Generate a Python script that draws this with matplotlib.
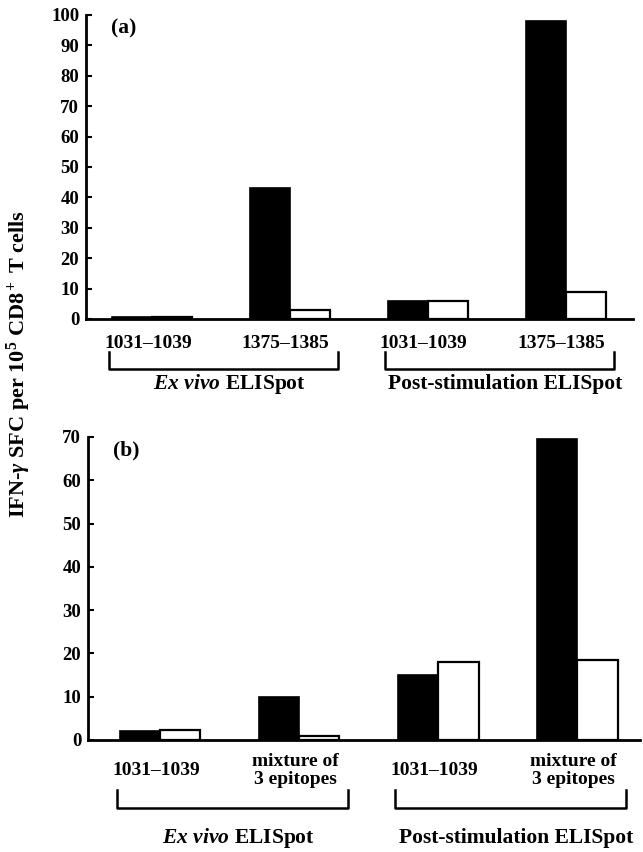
import matplotlib.pyplot as plt
import numpy as np

# data
cats_a = ['1031–1039', '1375–1385', '1031–1039', '1375–1385']
black_a = [0.5, 43, 6, 98]
white_a = [0.5, 3, 6, 9]

cats_b = ['1031–1039', 'mixture of\n3 epitopes', '1031–1039', 'mixture of\n3 epitopes']
black_b = [2, 10, 15, 69.5]
white_b = [2.2, 1, 18, 18.5]

groups = [r'$\mathit{Ex\ vivo}$ ELISpot', 'Post-stimulation ELISpot']

plt.rcParams['font.family'] = 'Liberation Serif'
plt.rcParams['font.weight'] = 'bold'
plt.rcParams['mathtext.fontset'] = 'custom'
plt.rcParams['mathtext.rm'] = 'Liberation Serif:bold'
plt.rcParams['mathtext.it'] = 'Liberation Serif:italic:bold'
plt.rcParams['mathtext.bf'] = 'Liberation Serif:bold'

fig = plt.figure(figsize=(6.43, 8.52), dpi=100)
ax_a = fig.add_axes([0.134, 0.6256, 0.85, 0.3568])
ax_b = fig.add_axes([0.137, 0.1315, 0.858, 0.3556])

w = 0.29
fs = 14


def panel(ax, cats, black, white, ymax, ystep, xlim, tag, lab_y, br_top, br_bot, grp_y):
    x = np.arange(len(cats))
    ax.bar(x - w / 2, black, w, color='black', edgecolor='black', linewidth=1.2)
    ax.bar(x + w / 2, white, w, color='white', edgecolor='black', linewidth=1.6)
    ax.set_xlim(*xlim)
    ax.set_ylim(0, ymax)
    ax.set_yticks(np.arange(0, ymax + 1, ystep))
    ax.set_xticks([])
    for s in ['top', 'right']:
        ax.spines[s].set_visible(False)
    for s in ['left', 'bottom']:
        ax.spines[s].set_linewidth(2.0)
    ax.tick_params(axis='y', direction='in', length=4, width=1.5, labelsize=13.5, pad=5)
    for t in ax.get_yticklabels():
        t.set_fontweight('bold')
    ax.text(0.045, 0.99, tag, transform=ax.transAxes, fontsize=15.5, fontweight='bold', va='top')

    tr = ax.get_xaxis_transform()
    for xi, c in zip(x, cats):
        ax.text(xi - 0.03, lab_y, c, transform=tr, ha='center', va='center',
                fontsize=fs, fontweight='bold', linespacing=1.05)
    # brackets under each pair of categories
    for g, (i, j) in enumerate([(0, 1), (2, 3)]):
        l, r = x[i] - 0.31, x[j] + 0.35
        ax.plot([l, l, r, r], [br_top, br_bot, br_bot, br_top], transform=tr,
                color='black', lw=1.8, clip_on=False)
        ax.text((l + r) / 2 + 0.04, grp_y, groups[g], transform=tr, ha='center', va='center',
                fontsize=15.5, fontweight='bold')


panel(ax_a, cats_a, black_a, white_a, 100, 10, (-0.478, 3.486), '(a)',
      -0.08, -0.108, -0.165, -0.215)
panel(ax_b, cats_b, black_b, white_b, 70, 10, (-0.518, 3.45), '(b)',
      -0.10, -0.165, -0.224, -0.323)

fig.text(0.03, 0.573, r'IFN-$\gamma$ SFC per 10$^5$ CD8$^+$ T cells', rotation=90,
         ha='center', va='center', fontsize=16, fontweight='bold')

fig.savefig('out.png', dpi=100)
